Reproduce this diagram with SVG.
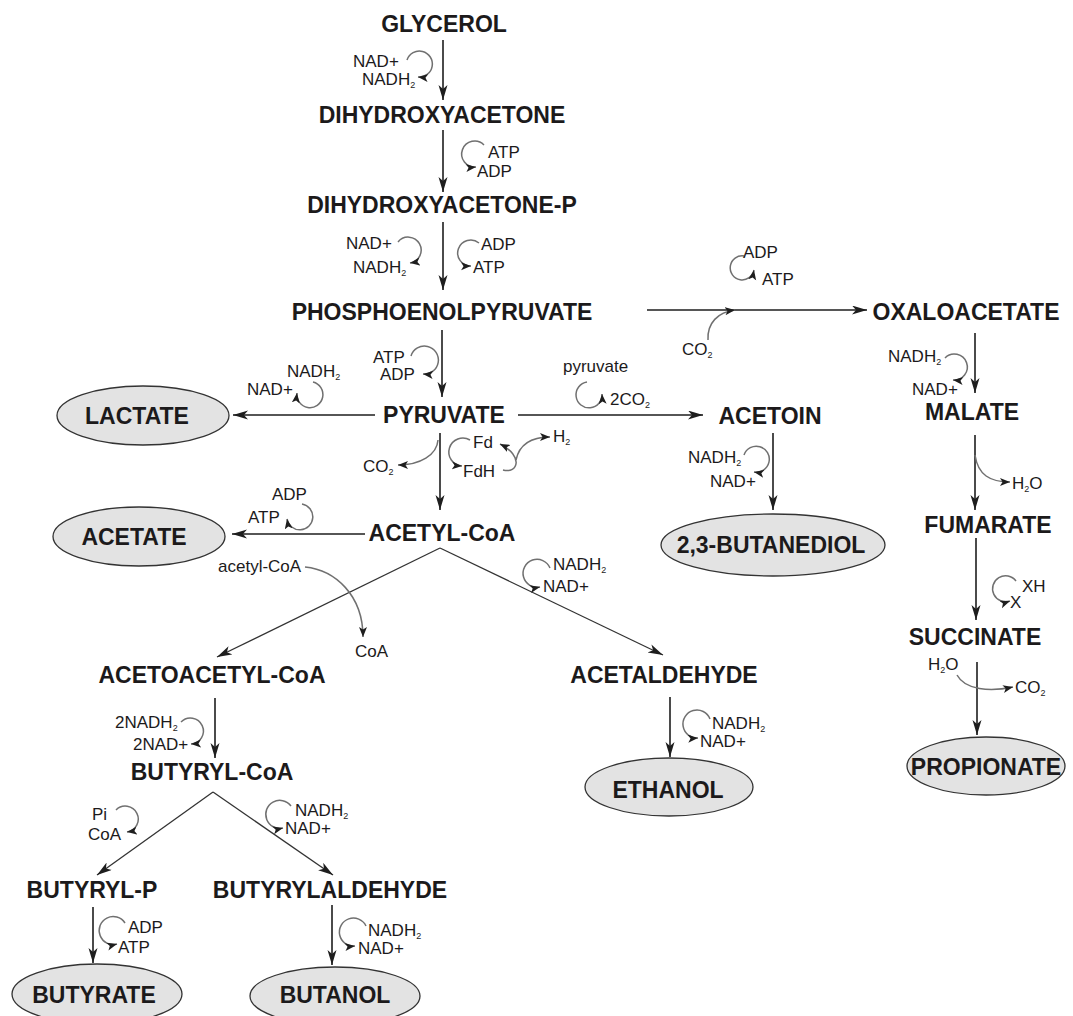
<svg xmlns="http://www.w3.org/2000/svg" width="1073" height="1016" viewBox="0 0 1073 1016">
<style>
.n{font-family:"Liberation Sans",Arial,sans-serif;font-weight:bold;font-size:23px;fill:#1c1a1b;text-anchor:middle}
.c{font-family:"Liberation Sans",Arial,sans-serif;font-size:17px;fill:#1c1a1b}
.sub{font-size:9px}
.el{fill:#e3e3e3;stroke:#333;stroke-width:1.3}
.m{fill:none;stroke:#1e1e1e;stroke-width:1.6;marker-end:url(#ah)}
.d{fill:none;stroke:#333;stroke-width:1.3;marker-end:url(#ah)}
.lp{fill:none;stroke:#707070;stroke-width:1.5;marker-end:url(#sh)}
</style>
<defs>
<marker id="ah" markerWidth="16" markerHeight="10" refX="15" refY="4.5" orient="auto" markerUnits="userSpaceOnUse"><path d="M0,0 L15,4.5 L0,9 L4,4.5 z" fill="#1e1e1e"/></marker>
<marker id="sh" markerWidth="12" markerHeight="9" refX="10" refY="4" orient="auto" markerUnits="userSpaceOnUse"><path d="M0,0 L10,4 L0,8 L2.5,4 z" fill="#1e1e1e"/></marker>
</defs>
<rect width="1073" height="1016" fill="#fff"/>

<g id="connectors">
<path class="m" d="M443,40 V100"/>
<path class="m" d="M443,130 V192"/>
<path class="m" d="M443,222 V290"/>
<path class="m" d="M647,310 H867"/>
<path class="m" d="M442,330 V397"/>
<path class="m" d="M375,415 H233"/>
<path class="m" d="M518,415 H703"/>
<path class="m" d="M975,333 V393"/>
<path class="m" d="M440,433 V510"/>
<path class="m" d="M365,534 H232"/>
<path class="m" d="M773,433 V510"/>
<path class="m" d="M975,435 V510"/>
<path class="d" d="M440,548 L217,657"/>
<path class="d" d="M440,548 L663,655"/>
<path class="m" d="M976,538 V620"/>
<path class="m" d="M977,662 V735"/>
<path class="m" d="M215,698 V758"/>
<path class="m" d="M670,697 V757"/>
<path class="d" d="M213,792 L97,875"/>
<path class="d" d="M213,792 L333,875"/>
<path class="m" d="M93,907 V963"/>
<path class="m" d="M332,905 V965"/>
</g>

<g id="cofactors">
<path class="lp" d="M407,60 A13,13 0 1 1 418,77"/>
<text class="c" x="353" y="67">NAD+</text>
<text class="c" x="362" y="85">NADH<tspan class="sub" dy="3">2</tspan></text>

<path class="lp" d="M484,145 A13,13 0 1 0 476,167"/>
<text class="c" x="488" y="158">ATP</text>
<text class="c" x="477" y="177">ADP</text>

<path class="lp" d="M398,242 A13,13 0 1 1 410,263"/>
<text class="c" x="346" y="249">NAD+</text>
<text class="c" x="353" y="273">NADH<tspan class="sub" dy="3">2</tspan></text>

<path class="lp" d="M479,243 A13,13 0 1 0 471,266"/>
<text class="c" x="481" y="250">ADP</text>
<text class="c" x="473" y="273">ATP</text>

<path class="lp" d="M744,256 A12,12 0 1 0 754,270"/>
<text class="c" x="743" y="258">ADP</text>
<text class="c" x="762" y="285">ATP</text>
<path class="lp" d="M708,340 C707,323 718,312 735,310"/>
<text class="c" x="682" y="355">CO<tspan class="sub" dy="3">2</tspan></text>

<path class="lp" d="M411,356 A14,14 0 1 1 423,374"/>
<text class="c" x="373" y="363">ATP</text>
<text class="c" x="380" y="380">ADP</text>

<path class="lp" d="M313,382 A13,13 0 1 1 297,393"/>
<text class="c" x="287" y="377">NADH<tspan class="sub" dy="3">2</tspan></text>
<text class="c" x="247" y="395">NAD+</text>

<path class="lp" d="M587,382 A13,13 0 1 0 602,394"/>
<text class="c" x="563" y="372">pyruvate</text>
<text class="c" x="610" y="405">2CO<tspan class="sub" dy="3">2</tspan></text>

<path class="lp" d="M438,440 C437,455 420,465 398,465"/>
<text class="c" x="363" y="472">CO<tspan class="sub" dy="3">2</tspan></text>

<path class="lp" d="M470,440 A14,14 0 1 0 462,466"/>
<text class="c" x="473" y="448">Fd</text>
<text class="c" x="463" y="477">FdH</text>
<path class="lp" d="M503,470 C518,474 524,456 500,444"/>
<path class="lp" d="M516,460 C519,446 530,437 550,437"/>
<text class="c" x="553" y="442">H<tspan class="sub" dy="3">2</tspan></text>

<path class="lp" d="M302,504 A13,13 0 1 1 287,519"/>
<text class="c" x="272" y="500">ADP</text>
<text class="c" x="248" y="523">ATP</text>

<path class="lp" d="M305,567 C335,570 363,595 363,637"/>
<text class="c" x="218" y="572">acetyl-CoA</text>
<text class="c" x="355" y="657">CoA</text>

<path class="lp" d="M550,568 A14,14 0 1 0 540,587"/>
<text class="c" x="553" y="570">NADH<tspan class="sub" dy="3">2</tspan></text>
<text class="c" x="543" y="592">NAD+</text>

<path class="lp" d="M744,455 A13,13 0 1 1 754,472"/>
<text class="c" x="688" y="463">NADH<tspan class="sub" dy="3">2</tspan></text>
<text class="c" x="710" y="487">NAD+</text>

<path class="lp" d="M945,358 A13,13 0 1 1 953,380"/>
<text class="c" x="888" y="362">NADH<tspan class="sub" dy="3">2</tspan></text>
<text class="c" x="912" y="395">NAD+</text>

<path class="lp" d="M975,455 C978,475 990,482 1010,482"/>
<text class="c" x="1012" y="489">H<tspan class="sub" dy="3">2</tspan><tspan dy="-3">O</tspan></text>

<path class="lp" d="M1016,581 A13,13 0 1 0 1010,601"/>
<text class="c" x="1022" y="592">XH</text>
<text class="c" x="1010" y="608">X</text>

<path class="lp" d="M957,675 C965,690 990,692 1013,687"/>
<text class="c" x="928" y="670">H<tspan class="sub" dy="3">2</tspan><tspan dy="-3">O</tspan></text>
<text class="c" x="1015" y="693">CO<tspan class="sub" dy="3">2</tspan></text>

<path class="lp" d="M181,722 A13,13 0 1 1 191,744"/>
<text class="c" x="115" y="728">2NADH<tspan class="sub" dy="3">2</tspan></text>
<text class="c" x="133" y="750">2NAD+</text>

<path class="lp" d="M710,719 A14,14 0 1 0 698,738"/>
<text class="c" x="712" y="729">NADH<tspan class="sub" dy="3">2</tspan></text>
<text class="c" x="700" y="747">NAD+</text>

<path class="lp" d="M116,810 A13,13 0 1 1 127,832"/>
<text class="c" x="92" y="820">Pi</text>
<text class="c" x="88" y="840">CoA</text>

<path class="lp" d="M291,806 A14,14 0 1 0 283,828"/>
<text class="c" x="295" y="816">NADH<tspan class="sub" dy="3">2</tspan></text>
<text class="c" x="285" y="834">NAD+</text>

<path class="lp" d="M125,923 A14,14 0 1 0 117,944"/>
<text class="c" x="128" y="933">ADP</text>
<text class="c" x="118" y="953">ATP</text>

<path class="lp" d="M366,926 A14,14 0 1 0 355,946"/>
<text class="c" x="368" y="936">NADH<tspan class="sub" dy="3">2</tspan></text>
<text class="c" x="358" y="954">NAD+</text>
</g>

<g id="glycerol"><text class="n" x="444" y="32">GLYCEROL</text></g>
<g id="dihydroxyacetone"><text class="n" x="442" y="123">DIHYDROXYACETONE</text></g>
<g id="dihydroxyacetone-p"><text class="n" x="442" y="213">DIHYDROXYACETONE-P</text></g>
<g id="phosphoenolpyruvate"><text class="n" x="442" y="320">PHOSPHOENOLPYRUVATE</text></g>
<g id="oxaloacetate"><text class="n" x="966" y="320">OXALOACETATE</text></g>
<g id="pyruvate"><text class="n" x="444" y="423">PYRUVATE</text></g>
<g id="acetoin"><text class="n" x="770" y="424">ACETOIN</text></g>
<g id="malate"><text class="n" x="972" y="420">MALATE</text></g>
<g id="lactate"><ellipse class="el" cx="143" cy="415.5" rx="86" ry="29.5"/><text class="n" x="137" y="424">LACTATE</text></g>
<g id="acetyl-coa"><text class="n" x="442" y="541">ACETYL-CoA</text></g>
<g id="acetate"><ellipse class="el" cx="139" cy="536.5" rx="86" ry="29.5"/><text class="n" x="134" y="545">ACETATE</text></g>
<g id="butanediol"><ellipse class="el" cx="773" cy="545" rx="112" ry="31"/><text class="n" x="771" y="553">2,3-BUTANEDIOL</text></g>
<g id="fumarate"><text class="n" x="988" y="533">FUMARATE</text></g>
<g id="succinate"><text class="n" x="975" y="645">SUCCINATE</text></g>
<g id="acetoacetyl-coa"><text class="n" x="212" y="683">ACETOACETYL-CoA</text></g>
<g id="acetaldehyde"><text class="n" x="664" y="683">ACETALDEHYDE</text></g>
<g id="butyryl-coa"><text class="n" x="212" y="780">BUTYRYL-CoA</text></g>
<g id="ethanol"><ellipse class="el" cx="669" cy="787" rx="84" ry="29"/><text class="n" x="668" y="798">ETHANOL</text></g>
<g id="propionate"><ellipse class="el" cx="986" cy="766" rx="79" ry="29"/><text class="n" x="986" y="775">PROPIONATE</text></g>
<g id="butyryl-p"><text class="n" x="92" y="898">BUTYRYL-P</text></g>
<g id="butyrylaldehyde"><text class="n" x="330" y="898">BUTYRYLALDEHYDE</text></g>
<g id="butyrate"><ellipse class="el" cx="97" cy="994" rx="85" ry="30"/><text class="n" x="94" y="1003">BUTYRATE</text></g>
<g id="butanol"><ellipse class="el" cx="335" cy="996" rx="85" ry="29"/><text class="n" x="335" y="1003">BUTANOL</text></g>
</svg>
